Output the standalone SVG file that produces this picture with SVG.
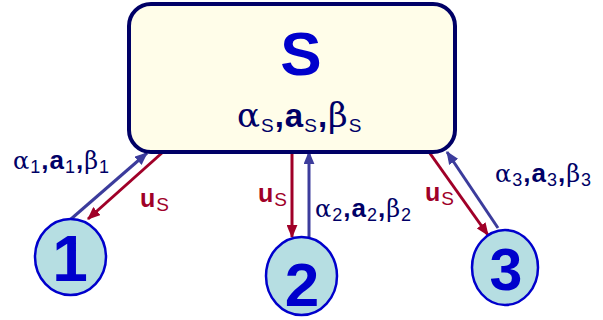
<svg xmlns="http://www.w3.org/2000/svg" width="603" height="320" viewBox="0 0 603 320">
<defs>
<style>
.lbl{font-family:"Liberation Sans",Arial,sans-serif;fill:#000066;font-size:26px;letter-spacing:1px}
.gr{font-family:"DejaVu Serif","Liberation Serif",serif;font-size:24px;font-weight:normal}
.b{font-weight:bold}
.sub{font-size:18px;font-weight:normal}
.box .gr{font-size:34px}
.box .sub{font-size:19px}
.us{font-family:"Liberation Sans",Arial,sans-serif;fill:#A00028;font-size:25px;font-weight:bold;letter-spacing:1px}
.us .sub{font-weight:normal;font-size:19px}
.node ellipse{fill:#B6DEE2;stroke:#0000CC;stroke-width:2.5}
.num{font-family:"Liberation Sans",Arial,sans-serif;font-weight:bold;fill:#0000CC;text-anchor:middle}
.red{stroke:#A00028;stroke-width:3;fill:none;marker-end:url(#ar)}
.blu{stroke:#3C3C9C;stroke-width:3;fill:none;marker-end:url(#ab)}
</style>
<marker id="ar" viewBox="0 0 12 10" refX="11" refY="5" markerWidth="13" markerHeight="11" markerUnits="userSpaceOnUse" orient="auto"><path d="M0,0 L12,5 L0,10 Z" fill="#A00028"/></marker>
<marker id="ab" viewBox="0 0 12 10" refX="11" refY="5" markerWidth="13" markerHeight="11" markerUnits="userSpaceOnUse" orient="auto"><path d="M0,0 L12,5 L0,10 Z" fill="#3C3C9C"/></marker>
</defs>
<g id="connectors">
<line class="blu" x1="71" y1="219" x2="147" y2="153"/>
<line class="red" x1="163" y1="152" x2="88" y2="219"/>
<line class="red" x1="292" y1="152" x2="292" y2="237"/>
<line class="blu" x1="309" y1="237" x2="309" y2="152"/>
<line class="red" x1="429" y1="152" x2="488" y2="235"/>
<line class="blu" x1="498" y1="228" x2="447" y2="152"/>
<text class="lbl" x="13" y="169"><tspan class="gr">α</tspan><tspan class="sub" dy="4">1</tspan><tspan class="b" dy="-4">,a</tspan><tspan class="sub" dy="4">1</tspan><tspan class="b" dy="-4">,</tspan><tspan class="gr">β</tspan><tspan class="sub" dy="4">1</tspan></text>
<text class="lbl" x="315" y="217"><tspan class="gr">α</tspan><tspan class="sub" dy="4">2</tspan><tspan class="b" dy="-4">,a</tspan><tspan class="sub" dy="4">2</tspan><tspan class="b" dy="-4">,</tspan><tspan class="gr">β</tspan><tspan class="sub" dy="4">2</tspan></text>
<text class="lbl" x="495" y="182"><tspan class="gr">α</tspan><tspan class="sub" dy="4">3</tspan><tspan class="b" dy="-4">,a</tspan><tspan class="sub" dy="4">3</tspan><tspan class="b" dy="-4">,</tspan><tspan class="gr">β</tspan><tspan class="sub" dy="4">3</tspan></text>
<text class="us" x="140" y="207">u<tspan class="sub" dy="4">S</tspan></text>
<text class="us" x="258" y="202">u<tspan class="sub" dy="4">S</tspan></text>
<text class="us" x="425" y="201">u<tspan class="sub" dy="4">S</tspan></text>
</g>
<g id="S" class="box">
<rect x="129" y="4" width="326" height="148" rx="22" fill="#FFFDE9" stroke="#000066" stroke-width="4"/>
<text x="301" y="75" font-family="Liberation Sans,Arial,sans-serif" font-weight="bold" font-size="62" fill="#0000CC" text-anchor="middle">S</text>
<text class="lbl" x="237" y="127" style="font-size:33px"><tspan class="gr">α</tspan><tspan class="sub" dy="5">S</tspan><tspan class="b" dy="-5">,a</tspan><tspan class="sub" dy="5">S</tspan><tspan class="b" dy="-5">,</tspan><tspan class="gr">β</tspan><tspan class="sub" dy="5">S</tspan></text>
</g>
<g id="n1" class="node"><ellipse cx="70.5" cy="257" rx="35.5" ry="38"/><text class="num" x="70" y="281" font-size="64">1</text></g>
<g id="n2" class="node"><ellipse cx="301.5" cy="276" rx="35.5" ry="39"/><text class="num" x="302" y="306" font-size="62">2</text></g>
<g id="n3" class="node"><ellipse cx="505" cy="267.5" rx="33" ry="37.5"/><text class="num" x="506" y="290" font-size="59">3</text></g>
</svg>
